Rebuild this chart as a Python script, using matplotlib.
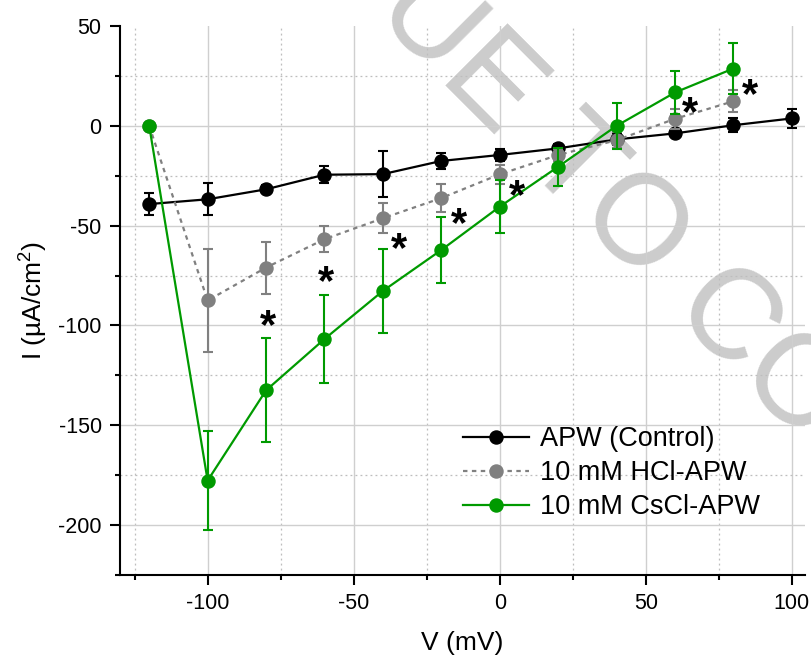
import matplotlib
matplotlib.use("Agg")
import matplotlib.pyplot as plt
import matplotlib.transforms as mtransforms
from matplotlib.ticker import MultipleLocator

plt.rcParams['font.family'] = ['Liberation Sans', 'DejaVu Sans']
plt.rcParams['mathtext.default'] = 'regular'
plt.rcParams['axes.unicode_minus'] = False

# ---- data ----
voltage = [-120, -100, -80, -60, -40, -20, 0, 20, 40, 60, 80, 100]
control = [-39.2, -36.8, -31.8, -24.5, -24.2, -17.6, -14.6, -11.3, -6.8, -3.8, 0.3, 3.7]
control_err = [5.4, 8.0, 2.0, 4.3, 11.5, 4.0, 3.0, 2.0, 3.0, 2.0, 3.5, 4.8]

voltage_t = [-120, -100, -80, -60, -40, -20, 0, 20, 40, 60, 80]
hcl = [0.0, -87.5, -71.0, -56.8, -46.3, -36.2, -24.3, -14.6, -7.2, 3.5, 12.3]
hcl_err = [0.0, 25.8, 13.0, 6.6, 7.5, 7.0, 4.7, 3.0, 4.0, 5.0, 5.5]
cscl = [0.0, -177.7, -132.5, -106.8, -82.7, -62.2, -40.5, -20.5, 0.0, 16.7, 28.7]
cscl_err = [0.0, 25.0, 26.0, 22.0, 21.0, 16.5, 13.3, 9.5, 11.5, 10.8, 13.0]

sig_v = [-79.4, -59.5, -34.5, -13.9, 5.8, 65.3, 85.8]
sig_i = [-96.3, -74.7, -58.0, -45.5, -31.3, 10.3, 19.2]

labels = ['APW (Control)', '10 mM HCl-APW', '10 mM CsCl-APW']

# ---- figure ----
fig = plt.figure(figsize=(8.11, 6.6), dpi=100)
ax = fig.add_axes([120/811, 1 - 575/660, (805-120)/811, (575-26)/660])
ax.set_facecolor('none')

# watermark (behind everything)
fig.text(307/811, 1 + 53/660, 'DUE TO COPYRIGHT', rotation=-45, rotation_mode='anchor',
         ha='left', va='baseline', fontsize=92, color='#cccccc', zorder=-5,
         family='Liberation Sans')

ms = 9.4
lw = 1.6
green = '#009a00'
grey = '#808080'

c1 = ax.errorbar(voltage, control, yerr=control_err, color='black', lw=lw, marker='o',
                 ms=ms, capsize=3.6, capthick=1.5, elinewidth=1.5, zorder=3)
c2 = ax.errorbar(voltage_t, hcl, yerr=hcl_err, color=grey, lw=lw, ls=(0, (2, 2)),
                 marker='o', ms=ms, capsize=3.6, capthick=1.5, elinewidth=1.5, zorder=4)
c3 = ax.errorbar(voltage_t, cscl, yerr=cscl_err, color=green, lw=lw, marker='o',
                 ms=ms, capsize=3.6, capthick=1.5, elinewidth=1.5, zorder=5)

# significance asterisks
fs_star = 30
trans = mtransforms.offset_copy(ax.transData, fig=fig, x=0, y=-0.47*fs_star, units='points')
for xv, yv in zip(sig_v, sig_i):
    ax.text(xv, yv, '*', transform=trans, ha='center', va='baseline', fontsize=fs_star,
            fontweight='bold', color='black', zorder=6)

ax.set_xlim(-130, 104.5)
ax.set_ylim(-225, 50)
ax.xaxis.set_major_locator(MultipleLocator(50))
ax.xaxis.set_minor_locator(MultipleLocator(25))
ax.yaxis.set_major_locator(MultipleLocator(50))
ax.yaxis.set_minor_locator(MultipleLocator(25))

ax.grid(which='major', color='#cfcfcf', lw=1.0, ls='-', zorder=0)
ax.grid(which='minor', color='#bdbdbd', lw=0.9, ls=(0, (1.5, 2.5)), zorder=0)
ax.set_axisbelow(True)

for s in ['top', 'right']:
    ax.spines[s].set_visible(False)
for s in ['left', 'bottom']:
    ax.spines[s].set_linewidth(1.5)

ax.tick_params(which='major', direction='out', length=7.2, width=1.5, labelsize=15.5, pad=6)
ax.tick_params(which='minor', direction='out', length=3.6, width=1.5)

ax.set_xlabel('V (mV)', fontsize=19, labelpad=12)
ax.set_ylabel('I (µA/cm$^{2}$)', fontsize=19, labelpad=6)

leg = ax.legend([c1[0], c2[0], c3[0]], labels, loc='upper left',
                bbox_to_anchor=(463/811, 1 - 426/660), bbox_transform=fig.transFigure,
                frameon=False, fontsize=19.5, handlelength=2.45, handletextpad=0.38,
                labelspacing=0.3, borderpad=0, borderaxespad=0)

# no horizontal grid line along the top edge (y = 50)
fig.canvas.draw()
for tick in ax.yaxis.get_major_ticks():
    if abs(tick.get_loc() - 50) < 1e-6:
        tick.gridline.set_visible(False)

fig.savefig('out.png', dpi=100)
